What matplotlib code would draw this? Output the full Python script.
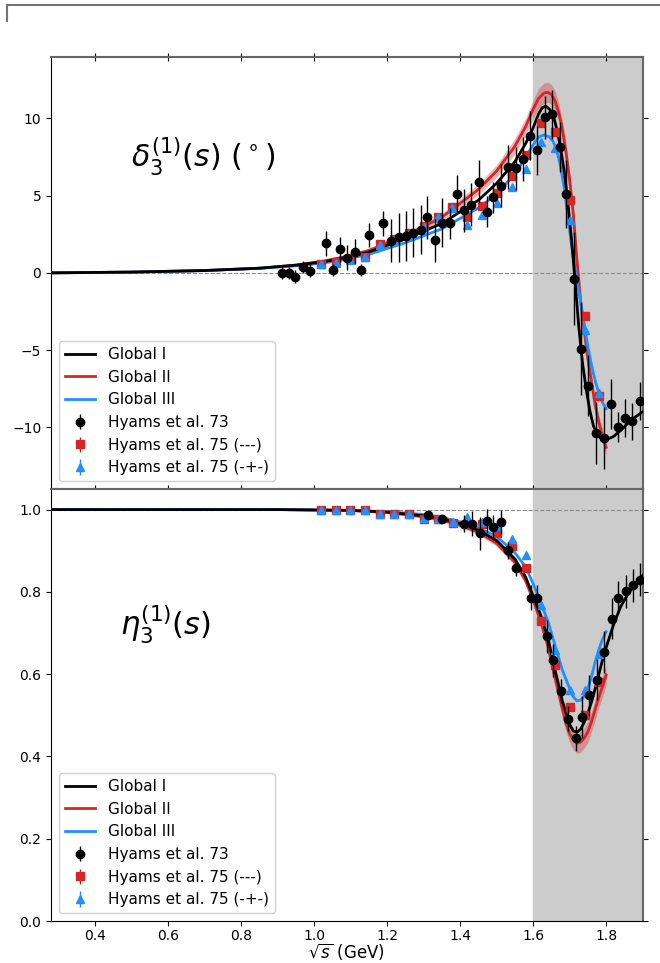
import numpy as np
import matplotlib
matplotlib.use("Agg")
import matplotlib.pyplot as plt
from matplotlib.lines import Line2D

# ---- phase shift data (degrees) ----
h73_x = [0.912, 0.931, 0.948, 0.970, 0.990, 1.032, 1.053, 1.070, 1.090, 1.111, 1.129, 1.150,
         1.190, 1.212, 1.232, 1.252, 1.272, 1.292, 1.310, 1.330, 1.351, 1.373, 1.391, 1.412,
         1.430, 1.451, 1.473, 1.490, 1.511, 1.531, 1.553, 1.572, 1.591, 1.611, 1.632, 1.652,
         1.673, 1.690, 1.711, 1.731, 1.751, 1.773, 1.793, 1.812, 1.831, 1.851, 1.871, 1.893]
h73_d = [0.0, 0.0, -0.24, 0.39, 0.15, 1.92, 0.19, 1.53, 0.99, 1.38, 0.19, 2.46,
         3.22, 2.09, 2.3, 2.4, 2.6, 2.8, 3.6, 2.1, 3.26, 3.22, 5.12, 4.04,
         4.41, 5.9, 3.97, 4.9, 5.64, 6.85, 6.78, 7.37, 8.88, 7.93, 10.07, 10.26,
         8.15, 5.12, -0.37, -4.9, -7.3, -10.37, -10.7, -8.5, -9.98, -9.4, -9.6, -8.3]
h73_d_err = [0.4, 0.4, 0.4, 0.4, 0.4, 0.8, 0.4, 0.8, 0.8, 0.8, 0.4, 0.8,
             0.8, 1.4, 1.6, 1.6, 1.6, 1.6, 1.4, 1.4, 1.6, 1.0, 1.2, 1.4,
             1.4, 1.4, 1.0, 1.0, 1.4, 1.4, 1.4, 1.4, 1.6, 1.6, 1.4, 1.6,
             1.6, 2.2, 3.0, 3.0, 2.0, 2.0, 2.0, 1.6, 1.0, 1.2, 1.2, 1.2]

h75_x = [1.018, 1.059, 1.099, 1.139, 1.180, 1.220, 1.260, 1.300, 1.339, 1.379, 1.420,
         1.460, 1.500, 1.541, 1.581, 1.621, 1.659, 1.700, 1.742, 1.780]
h75a_d = [0.6, 0.73, 0.91, 1.06, 1.86, 2.18, 2.57, 3.05, 3.65, 4.26, 3.65,
          4.30, 5.2, 6.29, 7.65, 9.7, 9.1, 4.73, -2.8, -7.95]
h75b_d = [0.55, 0.66, 0.85, 1.0, 1.8, 2.1, 2.5, 3.0, 3.6, 4.2, 3.1,
          3.76, 4.5, 5.55, 6.72, 8.45, 8.1, 3.43, -3.7, -7.8]
h75_d_err = [0.2] * 20

# ---- inelasticity data ----
h73e_x = [1.312, 1.350, 1.412, 1.433, 1.454, 1.474, 1.490, 1.511, 1.531, 1.552, 1.595, 1.611,
          1.637, 1.655, 1.675, 1.696, 1.717, 1.734, 1.753, 1.774, 1.795, 1.815, 1.833, 1.853,
          1.874, 1.892]
h73_eta = [0.986, 0.978, 0.966, 0.966, 0.942, 0.972, 0.958, 0.970, 0.901, 0.859, 0.786, 0.786,
           0.692, 0.634, 0.559, 0.492, 0.444, 0.496, 0.549, 0.587, 0.654, 0.735, 0.786, 0.801,
           0.816, 0.830]
h73_eta_err = [0.01, 0.01, 0.02, 0.03, 0.04, 0.03, 0.03, 0.03, 0.02, 0.02, 0.03, 0.03,
               0.04, 0.04, 0.03, 0.03, 0.03, 0.05, 0.05, 0.05, 0.05, 0.05, 0.04, 0.04,
               0.04, 0.04]

h75e_x = [1.019, 1.059, 1.099, 1.139, 1.180, 1.220, 1.260, 1.300, 1.340, 1.380, 1.419,
          1.459, 1.500, 1.541, 1.580, 1.621, 1.659, 1.700, 1.742, 1.781]
h75a_eta = [1.0, 1.0, 1.0, 1.0, 0.989, 0.989, 0.989, 0.978, 0.976, 0.967, 0.966,
            0.965, 0.943, 0.911, 0.859, 0.729, 0.622, 0.52, 0.50, 0.581]
h75b_eta = [1.0, 1.0, 1.0, 1.0, 0.99, 0.99, 0.99, 0.98, 0.978, 0.97, 0.981,
            0.97, 0.959, 0.929, 0.889, 0.767, 0.658, 0.561, 0.561, 0.65]
h75_eta_err = [0.005] * 20

# ---- fits: phase shift ----
gI_x = [0.28, 0.5, 0.7, 0.85, 0.95, 1.03, 1.09, 1.15, 1.25, 1.35, 1.45, 1.5, 1.55, 1.58,
        1.60, 1.615, 1.625, 1.635, 1.645, 1.655, 1.665, 1.675, 1.685, 1.695, 1.705, 1.715,
        1.725, 1.735, 1.745, 1.755, 1.765, 1.775, 1.79, 1.80, 1.82, 1.84, 1.87, 1.9]
gI_d = [0.0, 0.05, 0.15, 0.3, 0.5, 0.73, 1.0, 1.35, 2.2, 3.2, 4.7, 5.8, 7.2, 8.4,
        9.4, 10.3, 10.7, 10.8, 10.6, 10.2, 9.3, 8.1, 6.6, 4.6, 2.2, -0.6,
        -3.5, -5.8, -7.5, -8.9, -9.9, -10.5, -10.8, -10.8, -10.6, -10.2, -9.5, -9.0]

gII_x = [0.28, 0.5, 0.7, 0.85, 0.95, 1.03, 1.09, 1.15, 1.25, 1.35, 1.45, 1.5, 1.55, 1.58,
         1.60, 1.615, 1.63, 1.64, 1.65, 1.66, 1.67, 1.68, 1.69, 1.70, 1.71, 1.72, 1.73,
         1.74, 1.75, 1.76, 1.77, 1.78, 1.79, 1.80]
gII_d = [0.0, 0.05, 0.15, 0.3, 0.5, 0.78, 1.07, 1.45, 2.4, 3.6, 5.4, 6.6, 8.2, 9.5,
         10.6, 11.3, 11.65, 11.7, 11.55, 11.15, 10.4, 9.3, 7.8, 6.0, 3.8, 0.8, -1.8,
         -3.8, -5.6, -7.1, -8.6, -9.7, -10.6, -11.3]
gII_d_band = [0.02, 0.03, 0.05, 0.06, 0.08, 0.1, 0.12, 0.15, 0.2, 0.25, 0.35, 0.4, 0.5, 0.55,
              0.6, 0.65, 0.65, 0.65, 0.65, 0.65, 0.6, 0.6, 0.6, 0.55, 0.55, 0.55, 0.5,
              0.5, 0.5, 0.5, 0.5, 0.5, 0.5, 0.5]

gIII_x = [0.28, 0.5, 0.7, 0.85, 0.95, 1.03, 1.09, 1.15, 1.25, 1.35, 1.45, 1.5, 1.55, 1.58,
          1.60, 1.615, 1.63, 1.645, 1.655, 1.665, 1.675, 1.685, 1.695, 1.705, 1.72, 1.73,
          1.74, 1.75, 1.76, 1.77, 1.78, 1.79, 1.80]
gIII_d = [0.0, 0.05, 0.15, 0.3, 0.45, 0.65, 0.9, 1.2, 1.95, 2.85, 4.2, 5.1, 6.4, 7.5,
          8.3, 8.8, 8.94, 8.8, 8.5, 7.9, 6.9, 5.5, 3.7, 1.8, -0.5, -1.9,
          -3.3, -4.8, -6.0, -7.0, -7.8, -8.4, -8.8]

# ---- fits: inelasticity ----
gI_ex = [0.28, 0.905, 1.1, 1.2, 1.3, 1.35, 1.4, 1.45, 1.5, 1.55, 1.58, 1.60, 1.62, 1.64,
         1.66, 1.68, 1.70, 1.71, 1.72, 1.73, 1.74, 1.75, 1.76, 1.77, 1.78, 1.79, 1.80,
         1.82, 1.84, 1.86, 1.88, 1.9]
gI_eta = [1.0, 1.0, 0.998, 0.994, 0.985, 0.978, 0.966, 0.95, 0.925, 0.88, 0.835, 0.79, 0.745,
          0.69, 0.61, 0.535, 0.478, 0.462, 0.459, 0.466, 0.483, 0.505, 0.533, 0.565, 0.60,
          0.635, 0.665, 0.72, 0.765, 0.795, 0.82, 0.84]

gII_ex = [0.28, 0.905, 1.1, 1.2, 1.3, 1.35, 1.4, 1.45, 1.5, 1.55, 1.58, 1.60, 1.62, 1.64,
          1.66, 1.68, 1.69, 1.70, 1.71, 1.72, 1.73, 1.74, 1.75, 1.76, 1.77, 1.78, 1.79, 1.80]
gII_eta = [1.0, 1.0, 0.998, 0.993, 0.983, 0.975, 0.962, 0.945, 0.918, 0.872, 0.826, 0.78,
           0.73, 0.67, 0.59, 0.515, 0.48, 0.455, 0.44, 0.432, 0.435, 0.445, 0.46, 0.485,
           0.515, 0.545, 0.57, 0.598]
gII_eta_band = [0.0, 0.0, 0.002, 0.003, 0.004, 0.005, 0.005, 0.006, 0.007, 0.008, 0.009, 0.01,
                0.012, 0.014, 0.016, 0.018, 0.02, 0.022, 0.024, 0.025, 0.025, 0.025, 0.025,
                0.025, 0.025, 0.025, 0.025, 0.025]

gIII_ex = [0.28, 0.905, 1.1, 1.2, 1.3, 1.35, 1.4, 1.45, 1.5, 1.55, 1.58, 1.60, 1.62, 1.64,
           1.66, 1.68, 1.70, 1.71, 1.72, 1.73, 1.74, 1.75, 1.76, 1.77, 1.78, 1.79, 1.80]
gIII_eta = [1.0, 1.0, 0.998, 0.995, 0.988, 0.981, 0.970, 0.955, 0.935, 0.895, 0.86, 0.82,
            0.775, 0.73, 0.67, 0.61, 0.565, 0.545, 0.535, 0.537, 0.547, 0.565, 0.595, 0.63,
            0.66, 0.685, 0.703]

black = 'black'
red = '#d62728'
blue = '#1e90ff'

fig = plt.figure(figsize=(6.6, 9.63), dpi=100)
ax1 = fig.add_axes([0.0773, 0.4922, 0.8965, 0.4489])
ax2 = fig.add_axes([0.0773, 0.0436, 0.8965, 0.4486], sharex=ax1)

# stray frame piece in the top-left corner
fig.add_artist(Line2D([0.0106, 1.0], [0.9948, 0.9948], transform=fig.transFigure,
                      color='0.45', lw=1.5))
fig.add_artist(Line2D([0.0106, 0.0106], [0.9948, 0.978], transform=fig.transFigure,
                      color='0.45', lw=1.5))


def draw(ax, fits, band, data, ref):
    ax.axvspan(1.6, 1.9, color='0.8', zorder=0)
    ax.axhline(ref, color='0.55', ls='--', lw=0.8, zorder=1)
    (xI, yI), (xII, yII), (xIII, yIII) = fits
    xII_a = np.array(xII)
    yII_a = np.array(yII)
    b = np.array(band)
    ax.fill_between(xII_a, yII_a - b, yII_a + b, color=red, alpha=0.35, lw=0, zorder=2)
    ax.plot(xI, yI, color=black, lw=2, label='Global I', zorder=4)
    ax.plot(xII, yII, color=red, lw=2, label='Global II', zorder=3)
    ax.plot(xIII, yIII, color=blue, lw=2, label='Global III', zorder=3)
    (x73, y73, e73), (x75, ya, yb, e75) = data
    ax.errorbar(x73, y73, yerr=e73, fmt='o', color=black, ms=6, elinewidth=1,
                ecolor=black, label='Hyams et al. 73', zorder=6)
    ax.errorbar(x75, ya, yerr=e75, fmt='s', color=red, ms=6, elinewidth=1,
                label='Hyams et al. 75 (---)', zorder=5)
    ax.errorbar(x75, yb, yerr=e75, fmt='^', color=blue, ms=6, elinewidth=1,
                label='Hyams et al. 75 (-+-)', zorder=5)
    ax.legend(loc='lower left', fontsize=11, framealpha=0.9)
    for side in ['top', 'right']:
        ax.spines[side].set_color('0.4')
        ax.spines[side].set_linewidth(1.5)
    ax.tick_params(axis='y', which='both', right=True, direction='out', labelsize=10)
    ax.tick_params(axis='x', labelsize=10)


draw(ax1, [(gI_x, gI_d), (gII_x, gII_d), (gIII_x, gIII_d)], gII_d_band,
     [(h73_x, h73_d, h73_d_err), (h75_x, h75a_d, h75b_d, h75_d_err)], 0.0)
draw(ax2, [(gI_ex, gI_eta), (gII_ex, gII_eta), (gIII_ex, gIII_eta)], gII_eta_band,
     [(h73e_x, h73_eta, h73_eta_err), (h75e_x, h75a_eta, h75b_eta, h75_eta_err)], 1.0)

ax1.spines['bottom'].set_color('0.4')
ax1.spines['bottom'].set_linewidth(1.5)
ax1.tick_params(axis='x', top=True, bottom=True, direction='inout', labelbottom=False, length=6)
ax1.tick_params(axis='y', which='both', labelright=False)
ax2.tick_params(axis='y', which='both', labelright=False)
ax2.tick_params(axis='x', pad=2)

ax1.set_xlim(0.28, 1.9)
ax1.set_ylim(-14, 14)
ax1.set_yticks([-10, -5, 0, 5, 10])
ax1.set_yticklabels(['\u221210', '\u22125', '0', '5', '10'])
ax2.set_ylim(0.0, 1.05)
ax2.set_yticks([0.0, 0.2, 0.4, 0.6, 0.8, 1.0])
ax2.set_xticks([0.4, 0.6, 0.8, 1.0, 1.2, 1.4, 1.6, 1.8])

ax1.text(0.5, 7.5, r'$\delta_3^{(1)}(s)$ $(^\circ)$', fontsize=21.5, va='center')
ax2.text(0.47, 0.72, r'$\eta_3^{(1)}(s)$', fontsize=22, va='center')
ax2.set_xlabel(r'$\sqrt{s}$ (GeV)', fontsize=12)
ax2.xaxis.label.set_va('bottom')
ax2.xaxis.set_label_coords(0.5, -0.096)

fig.savefig('out.png', dpi=100)
